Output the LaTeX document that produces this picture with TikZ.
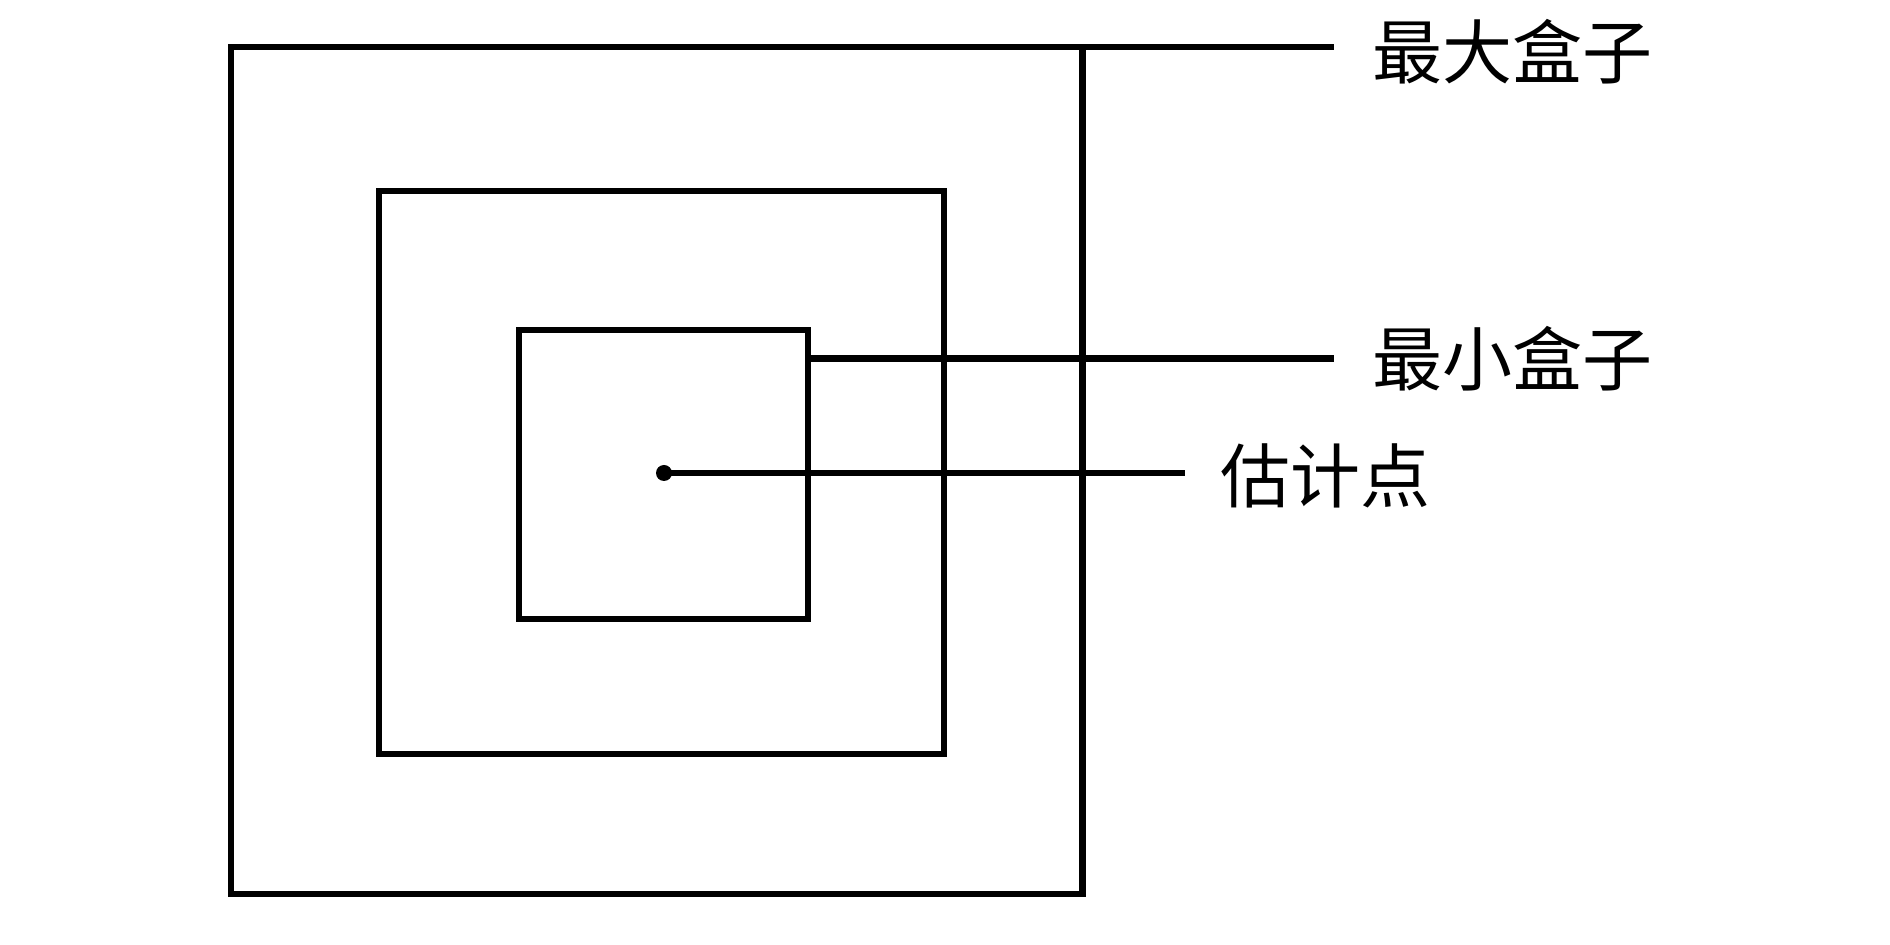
\documentclass[tikz,border=0pt]{standalone}
\usepackage{fontspec}
\newfontfamily\cjk{Noto Sans CJK SC}
\begin{document}
\begin{tikzpicture}[x=0.5pt,y=-0.5pt,
  boxst/.style={draw=black,line width=3.3pt,inner sep=0pt,outer sep=0pt,fill=none},
  lbl/.style={font=\cjk\fontsize{35pt}{40pt}\selectfont,inner sep=0pt,anchor=west},
  conn/.style={line width=3.3pt}]
\useasboundingbox (0,0) rectangle (1890,945);
\fill[white] (0,0) rectangle (1890,945);
\node[boxst,minimum width=425.75pt,minimum height=423.5pt] (outer) at (656.75,470.5) {};
\node[boxst,minimum width=282.5pt,minimum height=281.5pt] (middle) at (661.5,472.5) {};
\node[boxst,minimum width=144.5pt,minimum height=144.5pt] (inner) at (663.5,474.5) {};
\node[circle,fill=black,inner sep=0pt,outer sep=0pt,minimum size=8pt] (pt) at (664,473) {};
\node[lbl] (lmax) at (1372,52) {最大盒子};
\node[lbl] (lmin) at (1372,358.5) {最小盒子};
\node[lbl] (lest) at (1220,476) {估计点};
\coordinate (emax) at (1334,47);
\coordinate (smin) at (808,358.5);
\coordinate (emin) at (1334,358.5);
\coordinate (eest) at (1185,473);
\draw[conn] (outer.north east) -- (emax);
\draw[conn] (smin) -- (emin);
\draw[conn] (pt.center) -- (eest);
\end{tikzpicture}
\end{document}
